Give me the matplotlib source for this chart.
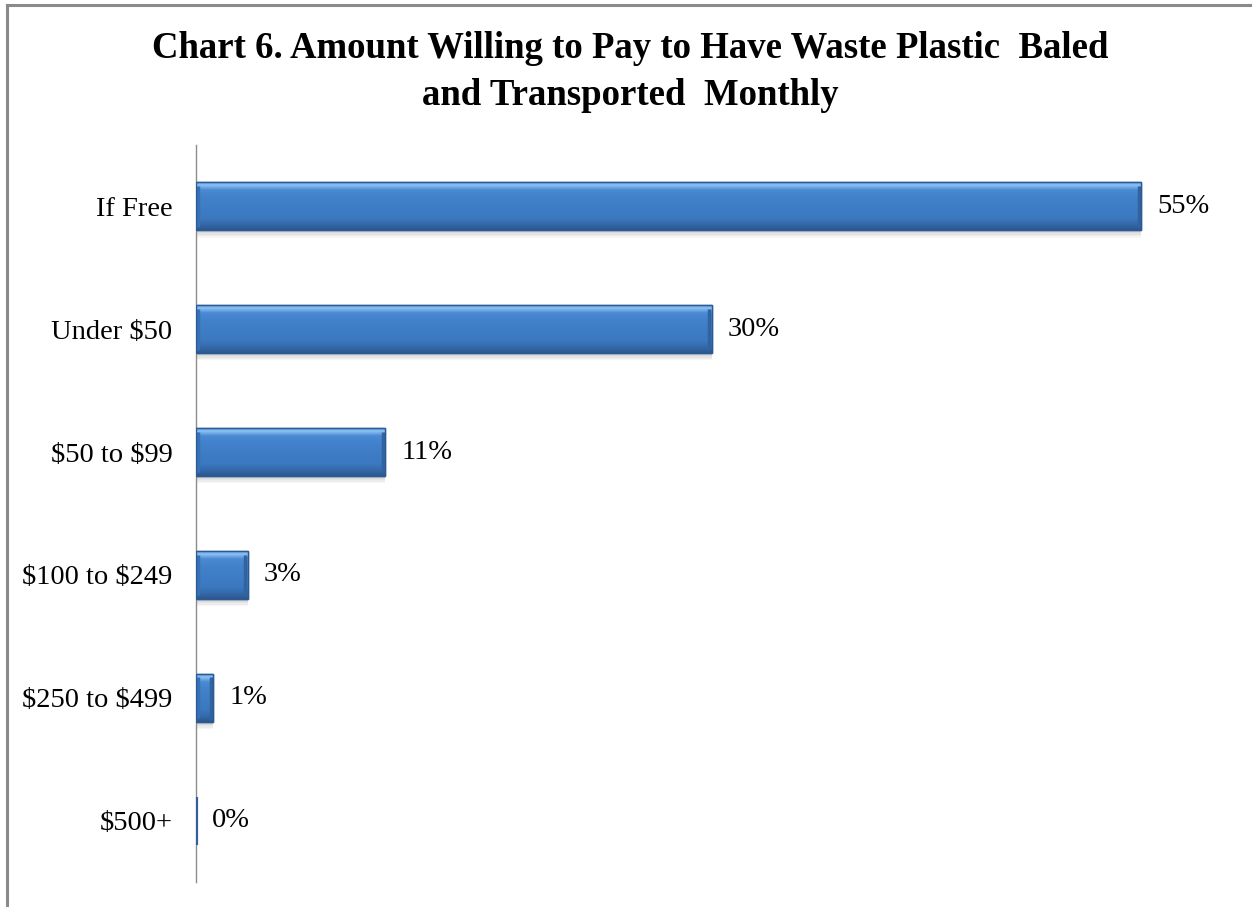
import numpy as np
import matplotlib
matplotlib.use("Agg")
from matplotlib import pyplot as plt
from matplotlib.lines import Line2D
from matplotlib.colors import to_rgb

plt.rcParams['font.family'] = ['Liberation Serif', 'DejaVu Serif']

categories = ['If Free', 'Under \\$50', '\\$50 to \\$99', '\\$100 to \\$249', '\\$250 to \\$499', '\\$500+']
shares = [55, 30, 11, 3, 1, 0]
labels = ['55%', '30%', '11%', '3%', '1%', '0%']

title = 'Chart 6. Amount Willing to Pay to Have Waste Plastic  Baled\nand Transported  Monthly'

fig = plt.figure(figsize=(12.52, 9.07), dpi=100)
ax = fig.add_axes([196 / 1252, 1 - 882 / 907, (1227 - 196) / 1252, (882 - 145) / 907])

bar_h = 0.39
ypos = np.arange(len(categories))

# soft shadow under each bar
for k in range(4):
    ax.barh(ypos + bar_h * 0.06 + k * 0.012, shares, height=bar_h, left=0,
            color='#000000', alpha=0.035, linewidth=0, zorder=1)

bars = ax.barh(ypos, shares, height=bar_h, color='#3F7DC5',
               edgecolor='#2C5A93', linewidth=1.0, zorder=2)

# bevel shading: light top rim, flat body, darker bottom rim
stops = [(0.00, '#5B98DC'), (0.06, '#8CC2F5'), (0.16, '#4C8AD2'), (0.30, '#4281CC'),
         (0.75, '#3B78C0'), (0.88, '#3569AA'), (1.00, '#2B578C')]
t = np.linspace(0, 1, 120)
grad = np.zeros((len(t), 1, 3))
for c in range(3):
    grad[:, 0, c] = np.interp(t, [s[0] for s in stops], [to_rgb(s[1])[c] for s in stops])

for rect, v in zip(bars, shares):
    y0 = rect.get_y()
    if v <= 0:
        # empty category: just the bar's edge shows against the axis
        ax.plot([0, 0], [y0, y0 + bar_h], color='#2F5F9C', lw=3.0, zorder=5,
                solid_capstyle='butt')
        continue
    img = ax.imshow(grad, extent=[0, v, y0 + bar_h, y0], aspect='auto',
                    interpolation='bilinear', zorder=3)
    img.set_clip_path(rect)
    # side bevels
    ax.plot([0.12, 0.12], [y0 + 0.03, y0 + bar_h - 0.03], color='#3571B6', lw=2.5,
            zorder=4, solid_capstyle='butt')
    ax.plot([v - 0.12, v - 0.12], [y0 + 0.03, y0 + bar_h - 0.03], color='#3163A0', lw=2.5,
            zorder=4, solid_capstyle='butt')
    ax.add_patch(plt.Rectangle((0, y0), v, bar_h, fill=False, edgecolor='#2C5A93',
                               linewidth=1.0, zorder=5))

for y, v, lab in zip(ypos, shares, labels):
    ax.text(v + 0.95, y, lab, va='center', ha='left', fontsize=20.5, color='black')

ax.set_xlim(0, 60)
ax.set_ylim(len(categories) - 0.5, -0.5)
ax.set_yticks(ypos)
ax.set_yticklabels(categories, fontsize=20.5)
ax.set_xticks([])
ax.tick_params(axis='y', length=0, pad=17)
for side in ['top', 'right', 'bottom']:
    ax.spines[side].set_visible(False)
ax.spines['left'].set_color('#8C8C8C')
ax.spines['left'].set_linewidth(1.0)

fig.text(630 / 1252, 1 - 72 / 907, title, ha='center', va='center', fontsize=26.5,
         fontweight='bold', linespacing=1.42)

# outer frame (left and top edges)
fig.add_artist(Line2D([7 / 1252, 7 / 1252], [0, 1 - 5 / 907], color='#8A8A8A', lw=2.2,
                      transform=fig.transFigure))
fig.add_artist(Line2D([7 / 1252, 1], [1 - 5 / 907, 1 - 5 / 907], color='#8A8A8A', lw=2.2,
                      transform=fig.transFigure))

fig.savefig('out.png', dpi=100, facecolor='white')
